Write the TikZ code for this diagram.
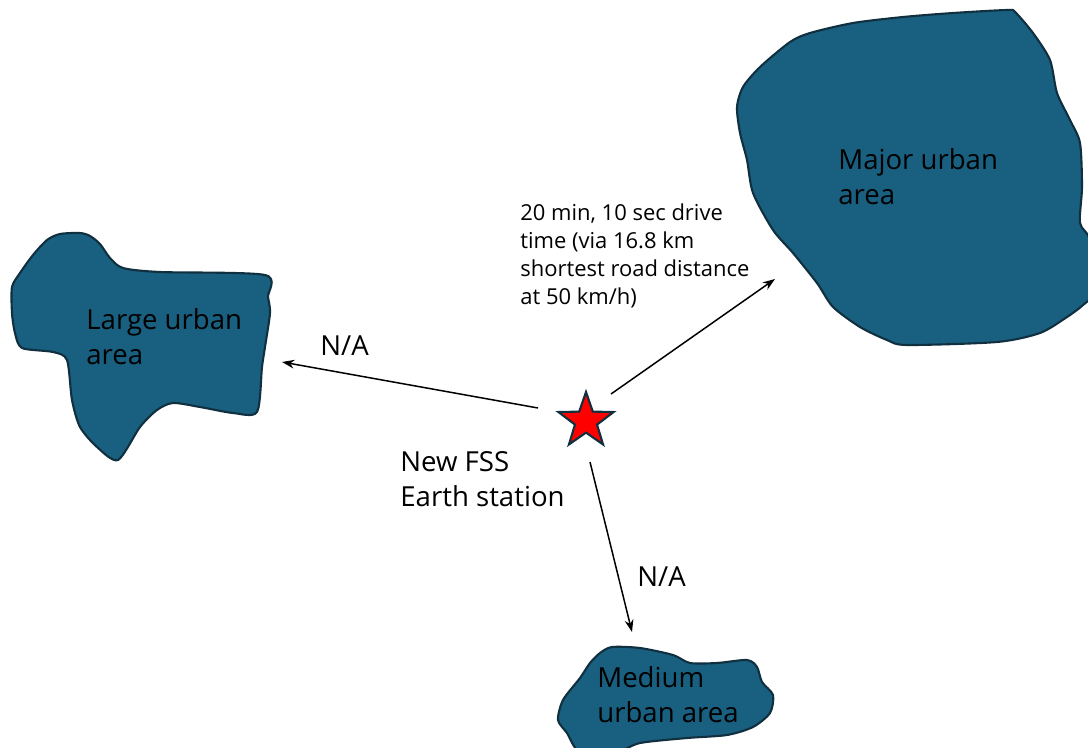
\documentclass[tikz,border=0pt]{standalone}
\usepackage{fontspec}
\setmainfont{Open Sans}
\usetikzlibrary{shapes.geometric,arrows.meta}
\definecolor{areafill}{HTML}{195F80}
\definecolor{areadraw}{HTML}{10303F}
\definecolor{starred}{HTML}{FF0000}
\tikzset{
  area/.style={fill=areafill,draw=areadraw,line width=1.2pt,line join=round},
  bigtxt/.style={anchor=base west,inner sep=0pt,align=left,font=\fontsize{15.7}{19.8}\selectfont,text=black},
  smalltxt/.style={anchor=base west,inner sep=0pt,align=left,font=\fontsize{12.5}{15.9}\selectfont,text=black},
  arr/.style={-{Stealth[length=7pt,width=5pt]},line width=0.85pt,black},
}
\begin{document}
\begin{tikzpicture}[x=0.02cm,y=-0.02cm]
\useasboundingbox (0,0) rectangle (1088,747);
\clip (0,0) rectangle (1088,747);
% Large urban area
\draw[area] plot[smooth cycle,tension=0.45] coordinates {
(60,234) (80,233) (90,236) (100,244) (110,258) (123,268) (160,272) (265,275)
(268,297) (270,313) (265,347) (262,367) (257,412) (233,413) (200,407) (173,403)
(157,410) (140,427) (118,460) (97,447) (80,427) (72,400) (67,360) (53,352)
(22,348) (15,333) (12,313) (12,287) (20,273) (33,255) (47,240)};
% Major urban area
\draw[area] plot[smooth cycle,tension=0.45] coordinates {
(953,13) (1007,10) (1015,12) (1033,33) (1050,60) (1057,93) (1070,120) (1080,143)
(1082,187) (1080,223) (1090,240) (1095,290) (1083,305) (1067,317) (1040,333)
(997,342) (907,345) (887,340) (860,327) (833,307) (817,283) (793,253) (773,230)
(753,193) (747,160) (740,133) (737,107) (743,87) (760,67) (790,42) (810,33)
(853,23) (903,17)};
% Medium urban area
\draw[area] plot[smooth cycle,tension=0.45] coordinates {
(612,647) (640,648) (673,655) (690,663) (717,663) (747,660) (757,667) (762,682)
(773,695) (770,713) (753,727) (727,735) (687,738) (640,743) (617,752) (580,752)
(567,733) (558,720) (563,700) (580,678) (590,663) (600,653)};
% texts (base = baseline of last line)
\node[bigtxt] (large) at (86,364) {Large urban\\area};
\node[bigtxt] (major) at (838,204) {Major urban\\area};
\node[bigtxt] (medium) at (597,722) {Medium\\urban area};
\node[bigtxt] (fss) at (400,506) {New FSS\\Earth station};
\node[smalltxt] (drive) at (520,304) {20 min, 10 sec drive\\time (via 16.8 km\\shortest road distance\\at 50 km/h)};
\node[bigtxt] (na1) at (320,355) {N/A};
\node[bigtxt] (na2) at (637,586) {N/A};
% star
\node[star,star points=5,star point ratio=2.5,minimum size=1.16cm,inner sep=0pt,
      fill=starred,draw=areadraw,line width=1.2pt] (station) at (586,421) {};
% arrow end points
\coordinate (sL) at (538,408);
\coordinate (eL) at (282,362);
\coordinate (sM) at (611,394);
\coordinate (eM) at (775,279);
\coordinate (sD) at (590,462);
\coordinate (eD) at (632,632);
\draw[arr] (sL) -- (eL);
\draw[arr] (sM) -- (eM);
\draw[arr] (sD) -- (eD);
\end{tikzpicture}
\end{document}
